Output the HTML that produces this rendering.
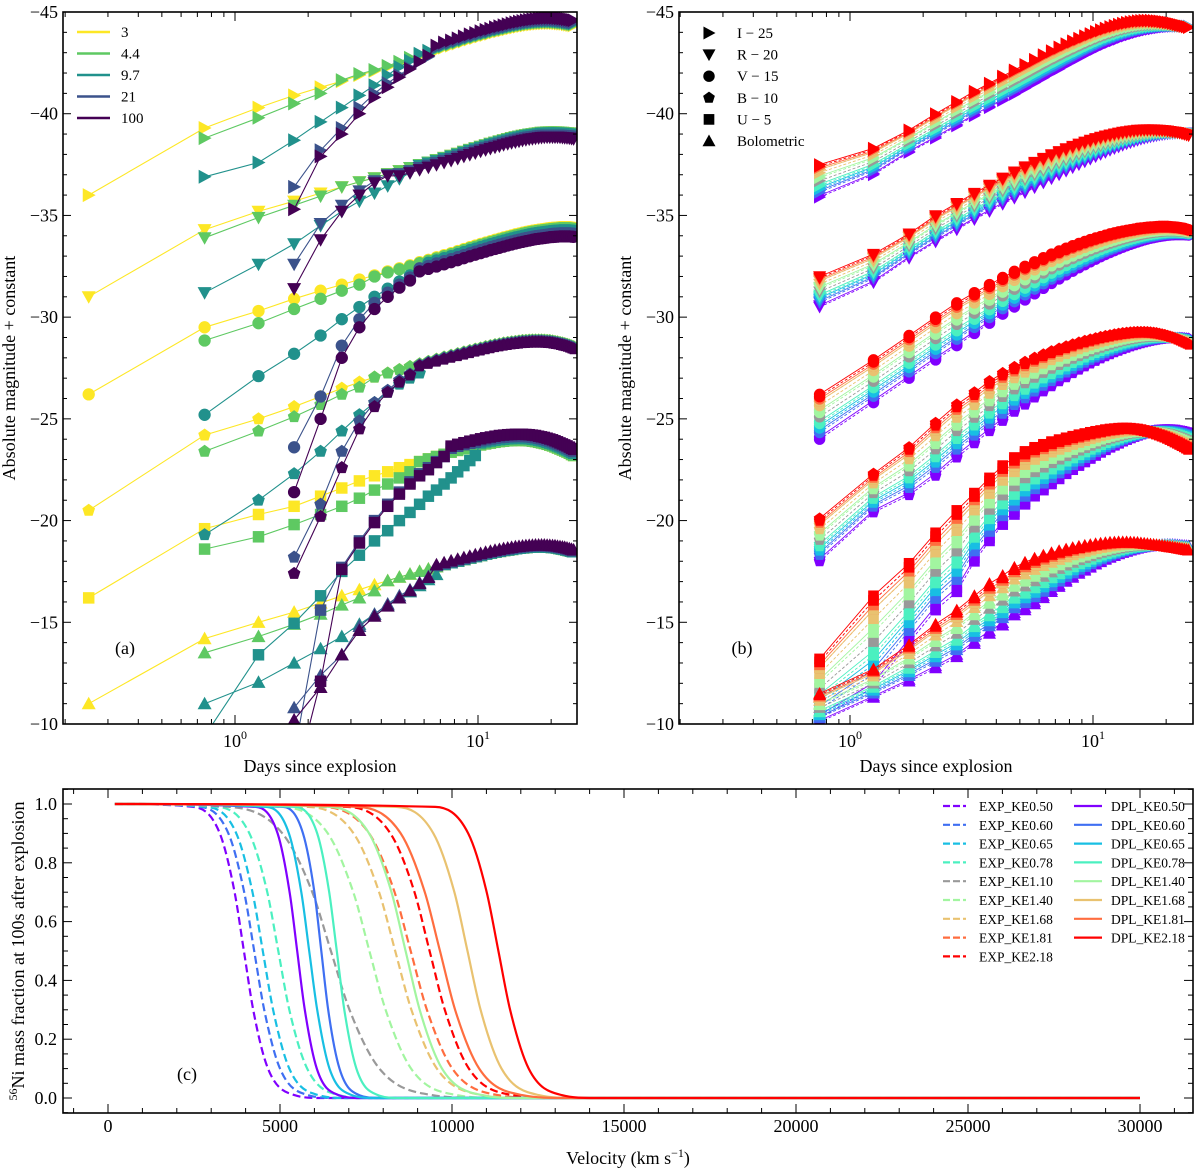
<!DOCTYPE html>
<html><head><meta charset="utf-8"><style>
html,body{margin:0;padding:0;background:#fff;}
svg{display:block;font-family:"Liberation Serif",serif;}
</style></head><body>
<svg id="fig" width="1200" height="1174" viewBox="0 0 1200 1174" xmlns="http://www.w3.org/2000/svg">
<defs>
<clipPath id="clipA"><rect x="63" y="12" width="514" height="712"/></clipPath>
<clipPath id="clipB"><rect x="679" y="12" width="514" height="712"/></clipPath>
<clipPath id="clipC"><rect x="63" y="789" width="1130" height="324"/></clipPath>
</defs>
</svg>
<script>
// ---------- Panel (a) data ----------
const daysA = [0.25,0.75,1.25,1.75,2.25,2.75,3.25,3.75,4.25,4.75,5.25,5.75,6.25,6.75,7.25,7.75,8.25,8.75,9.25,9.75,10.25,10.75,11.25,11.75,12.25,12.75,13.25,13.75,14.25,14.75,15.25,15.75,16.25,16.75,17.25,17.75,18.25,18.75,19.25,19.75,20.25,20.75,21.25,21.75,22.25,22.75,23.25,23.75,24.25,24.75];
const bandNames = ['I','R','V','B','U','Bol'];
const tplI = [-36.0,-39.3,-40.3,-40.9,-41.3,-41.6,-41.9,-42.1,-42.3,-42.5,-42.7,-42.85,-43.0,-43.1,-43.25,-43.35,-43.45,-43.55,-43.65,-43.72,-43.8,-43.87,-43.93,-44.0,-44.05,-44.1,-44.15,-44.2,-44.24,-44.28,-44.31,-44.34,-44.37,-44.39,-44.41,-44.43,-44.44,-44.45,-44.46,-44.46,-44.46,-44.46,-44.45,-44.44,-44.43,-44.42,-44.4,-44.38,-44.36,-44.34];
const tplR = [-31.0,-34.3,-35.2,-35.7,-36.1,-36.4,-36.65,-36.85,-37.05,-37.2,-37.35,-37.5,-37.62,-37.74,-37.85,-37.95,-38.05,-38.15,-38.24,-38.32,-38.4,-38.47,-38.54,-38.6,-38.66,-38.72,-38.77,-38.82,-38.86,-38.9,-38.94,-38.97,-39.0,-39.02,-39.04,-39.06,-39.08,-39.09,-39.1,-39.1,-39.1,-39.1,-39.1,-39.09,-39.08,-39.07,-39.06,-39.05,-39.03,-39.01];
const tplV = [-26.2,-29.5,-30.3,-30.9,-31.3,-31.6,-31.85,-32.05,-32.25,-32.4,-32.55,-32.7,-32.82,-32.94,-33.05,-33.15,-33.25,-33.35,-33.44,-33.52,-33.6,-33.67,-33.74,-33.8,-33.86,-33.92,-33.97,-34.02,-34.07,-34.11,-34.15,-34.19,-34.22,-34.25,-34.28,-34.3,-34.32,-34.34,-34.36,-34.38,-34.39,-34.4,-34.41,-34.42,-34.42,-34.42,-34.42,-34.42,-34.41,-34.4];
const tplB = [-20.5,-24.2,-25.0,-25.6,-26.1,-26.5,-26.8,-27.05,-27.25,-27.42,-27.57,-27.7,-27.82,-27.93,-28.03,-28.12,-28.2,-28.28,-28.35,-28.42,-28.48,-28.54,-28.59,-28.64,-28.68,-28.72,-28.75,-28.78,-28.8,-28.82,-28.84,-28.85,-28.86,-28.87,-28.87,-28.87,-28.87,-28.86,-28.85,-28.84,-28.82,-28.8,-28.78,-28.75,-28.72,-28.69,-28.66,-28.62,-28.58,-28.54];
const tplU = [-16.2,-19.6,-20.3,-20.7,-21.2,-21.6,-21.95,-22.2,-22.4,-22.6,-22.75,-22.9,-23.03,-23.15,-23.26,-23.36,-23.45,-23.53,-23.6,-23.66,-23.72,-23.77,-23.81,-23.85,-23.88,-23.9,-23.92,-23.93,-23.94,-23.94,-23.94,-23.93,-23.92,-23.9,-23.88,-23.85,-23.82,-23.79,-23.75,-23.71,-23.67,-23.62,-23.57,-23.52,-23.47,-23.42,-23.37,-23.31,-23.25,-23.2];
const tplBol = [-11.0,-14.2,-15.0,-15.5,-15.95,-16.3,-16.6,-16.85,-17.05,-17.22,-17.37,-17.5,-17.62,-17.73,-17.83,-17.92,-18.0,-18.08,-18.15,-18.22,-18.28,-18.34,-18.39,-18.44,-18.48,-18.52,-18.55,-18.58,-18.61,-18.63,-18.65,-18.67,-18.68,-18.69,-18.7,-18.7,-18.7,-18.7,-18.69,-18.68,-18.67,-18.66,-18.64,-18.62,-18.6,-18.58,-18.55,-18.52,-18.49,-18.46];
const modelsA = ['3','4.4','9.7','21','100'];
const colorsA = ['#fde725','#5ec962','#21918c','#3b528b','#440154'];
const startA = [0,1,1,3,3];
const early3 = [[],[],[],[],[],[]];
const early44 = [[-38.8,-39.8,-40.5,-41.0],[-33.9,-34.9,-35.5,-35.95],[-28.85,-29.7,-30.4,-30.9,-31.3,-31.6],[-23.4,-24.4,-25.1,-25.7,-26.2,-26.55],[-18.6,-19.2,-19.8,-20.3,-20.7,-21.1,-21.5,-21.8,-22.1,-22.4],[-13.5,-14.3,-14.9,-15.4,-15.85,-16.2,-16.55]];
const early97 = [[-36.9,-37.6,-38.7,-39.6,-40.3,-40.9,-41.4,-41.9,-42.3,-42.6],[-31.2,-32.6,-33.6,-34.5,-35.2,-35.7,-36.1,-36.45,-36.8,-37.1],[-25.2,-27.1,-28.2,-29.1,-29.9,-30.5,-31.0,-31.4,-31.75,-32.05,-32.3],[-19.3,-21.0,-22.3,-23.4,-24.4,-25.2,-25.8,-26.3,-26.7,-27.0,-27.25],[-9.4,-13.4,-14.95,-16.3,-17.5,-18.3,-19.0,-19.5,-20.0,-20.4,-20.8,-21.2,-21.5,-21.8,-22.1,-22.4,-22.7,-22.95,-23.2],[-11.0,-12.05,-13.0,-13.7,-14.3,-14.9,-15.4,-15.85,-16.2,-16.5,-16.8,-17.1,-17.35]];
const early21 = [[-36.4,-38.2,-39.3,-40.3,-41.0,-41.5,-41.9,-42.25,-42.55,-42.8],[-32.6,-34.6,-35.5,-36.2,-36.7,-37.0],[-23.6,-26.1,-28.6,-29.9,-30.7,-31.2,-31.6,-31.95],[-18.2,-20.8,-23.4,-24.9,-25.8,-26.4,-26.9,-27.2],[-8.5,-15.6,-17.7,-19.0,-20.0,-20.8,-21.4,-21.9,-22.3,-22.6,-22.9,-23.15],[-10.8,-12.4,-13.4,-14.8,-15.4,-15.9,-16.3,-16.6,-16.95,-17.25]];
const early100 = [[-35.3,-37.9,-39.0,-40.0,-40.8,-41.3,-41.8,-42.2,-42.55,-42.85],[-31.4,-33.8,-35.2,-36.0,-36.6,-36.95],[-21.4,-25.0,-28.0,-29.5,-30.4,-31.0,-31.45,-31.8],[-17.4,-20.2,-22.6,-24.5,-25.6,-26.3,-26.8,-27.15],[-7.0,-12.1,-17.6,-18.9,-19.9,-20.7,-21.3,-21.8,-22.2,-22.5,-22.85,-23.15],[-10.2,-11.8,-13.4,-14.6,-15.3,-15.8,-16.2,-16.55,-16.9,-17.2]];
const lateOff3 = [0,0,0,0,0,0];
const lateOff44 = [-0.05,0,0.05,0,0,0];
const lateOff97 = [-0.1,0.05,0.15,0.05,-0.1,0];
const lateOff21 = [-0.15,0.15,0.3,0.05,-0.2,-0.05];
const lateOff100 = [-0.25,0.25,0.45,0.1,-0.3,-0.1];

// ---------- Panel (b) data ----------
const daysB = [0.75,1.25,1.75,2.25,2.75,3.25,3.75,4.25,4.75,5.25,5.75,6.25,6.75,7.25,7.75,8.25,8.75,9.25,9.75,10.25,10.75,11.25,11.75,12.25,12.75,13.25,13.75,14.25,14.75,15.25,15.75,16.25,16.75,17.25,17.75,18.25,18.75,19.25,19.75,20.25,20.75,21.25,21.75,22.25,22.75,23.25,23.75,24.25,24.75];
const redI = [-37.5,-38.3,-39.2,-40.0,-40.6,-41.1,-41.5,-41.85,-42.15,-42.42,-42.67,-42.9,-43.1,-43.28,-43.44,-43.58,-43.71,-43.83,-43.94,-44.04,-44.13,-44.21,-44.28,-44.34,-44.4,-44.45,-44.49,-44.52,-44.55,-44.57,-44.58,-44.59,-44.59,-44.59,-44.58,-44.57,-44.56,-44.54,-44.52,-44.5,-44.48,-44.45,-44.42,-44.39,-44.36,-44.33,-44.3,-44.27,-44.24];
const purpleI = [-35.9,-37.0,-38.1,-38.8,-39.4,-39.9,-40.3,-40.65,-40.95,-41.25,-41.52,-41.77,-42.0,-42.2,-42.4,-42.58,-42.74,-42.9,-43.04,-43.17,-43.29,-43.4,-43.5,-43.59,-43.67,-43.75,-43.82,-43.88,-43.94,-43.99,-44.04,-44.08,-44.12,-44.15,-44.18,-44.21,-44.23,-44.25,-44.27,-44.28,-44.29,-44.3,-44.31,-44.31,-44.31,-44.31,-44.31,-44.3,-44.3];
const redR = [-32.0,-33.1,-34.1,-35.0,-35.6,-36.1,-36.5,-36.85,-37.15,-37.4,-37.62,-37.82,-38.0,-38.15,-38.29,-38.41,-38.52,-38.62,-38.71,-38.79,-38.86,-38.92,-38.97,-39.02,-39.06,-39.1,-39.13,-39.16,-39.18,-39.2,-39.21,-39.22,-39.22,-39.22,-39.22,-39.21,-39.2,-39.19,-39.18,-39.16,-39.14,-39.12,-39.1,-39.08,-39.05,-39.02,-38.99,-38.96,-38.93];
const purpleR = [-30.5,-31.7,-32.9,-33.7,-34.3,-34.8,-35.2,-35.55,-35.85,-36.12,-36.37,-36.6,-36.81,-37.0,-37.18,-37.35,-37.5,-37.64,-37.77,-37.89,-38.0,-38.1,-38.2,-38.29,-38.37,-38.45,-38.52,-38.58,-38.64,-38.7,-38.75,-38.79,-38.83,-38.87,-38.9,-38.93,-38.96,-38.98,-39.0,-39.02,-39.03,-39.04,-39.05,-39.06,-39.06,-39.06,-39.06,-39.06,-39.05];
const redV = [-26.2,-27.9,-29.1,-30.0,-30.7,-31.2,-31.6,-31.95,-32.25,-32.5,-32.72,-32.92,-33.1,-33.25,-33.39,-33.51,-33.62,-33.72,-33.81,-33.89,-33.96,-34.03,-34.09,-34.14,-34.19,-34.23,-34.27,-34.3,-34.33,-34.36,-34.38,-34.4,-34.42,-34.43,-34.44,-34.45,-34.46,-34.46,-34.46,-34.46,-34.45,-34.44,-34.43,-34.42,-34.4,-34.38,-34.36,-34.33,-34.3];
const purpleV = [-24.0,-25.8,-27.0,-27.9,-28.6,-29.2,-29.7,-30.15,-30.5,-30.85,-31.15,-31.42,-31.66,-31.88,-32.08,-32.26,-32.43,-32.58,-32.72,-32.85,-32.97,-33.08,-33.18,-33.27,-33.36,-33.44,-33.51,-33.58,-33.64,-33.7,-33.75,-33.8,-33.84,-33.88,-33.91,-33.94,-33.97,-33.99,-34.01,-34.03,-34.04,-34.05,-34.06,-34.06,-34.06,-34.06,-34.06,-34.05,-34.04];
const redB = [-20.1,-22.3,-23.6,-24.8,-25.7,-26.3,-26.85,-27.25,-27.55,-27.8,-28.0,-28.17,-28.32,-28.45,-28.56,-28.66,-28.75,-28.83,-28.9,-28.96,-29.02,-29.07,-29.11,-29.15,-29.18,-29.21,-29.23,-29.25,-29.26,-29.27,-29.27,-29.27,-29.26,-29.25,-29.23,-29.21,-29.18,-29.15,-29.12,-29.08,-29.04,-29.0,-28.95,-28.9,-28.85,-28.8,-28.75,-28.7,-28.65];
const purpleB = [-18.0,-20.4,-21.25,-22.2,-23.1,-23.8,-24.4,-24.9,-25.35,-25.7,-26.05,-26.35,-26.6,-26.85,-27.05,-27.25,-27.42,-27.58,-27.72,-27.85,-27.97,-28.08,-28.18,-28.27,-28.35,-28.43,-28.5,-28.56,-28.62,-28.67,-28.72,-28.76,-28.8,-28.83,-28.86,-28.89,-28.91,-28.93,-28.95,-28.96,-28.97,-28.98,-28.98,-28.98,-28.98,-28.97,-28.96,-28.95,-28.94];
const redU = [-13.2,-16.3,-17.9,-19.4,-20.5,-21.35,-22.1,-22.7,-23.1,-23.4,-23.6,-23.75,-23.88,-23.98,-24.07,-24.15,-24.22,-24.28,-24.34,-24.39,-24.43,-24.47,-24.5,-24.52,-24.54,-24.55,-24.55,-24.54,-24.52,-24.5,-24.47,-24.43,-24.39,-24.35,-24.3,-24.25,-24.2,-24.15,-24.1,-24.04,-23.98,-23.92,-23.86,-23.8,-23.74,-23.68,-23.62,-23.56,-23.5];
const purpleU = [-10.3,-11.8,-14.0,-15.6,-16.5,-18.0,-19.0,-19.8,-20.3,-20.8,-21.2,-21.5,-21.8,-22.05,-22.3,-22.5,-22.7,-22.88,-23.05,-23.2,-23.35,-23.48,-23.6,-23.7,-23.8,-23.9,-23.98,-24.06,-24.13,-24.19,-24.25,-24.3,-24.34,-24.38,-24.41,-24.43,-24.45,-24.46,-24.47,-24.47,-24.47,-24.46,-24.45,-24.43,-24.41,-24.39,-24.36,-24.33,-24.3];
const redBol = [-11.5,-12.7,-13.9,-14.9,-15.6,-16.3,-16.9,-17.3,-17.7,-17.95,-18.15,-18.3,-18.42,-18.52,-18.6,-18.67,-18.73,-18.78,-18.82,-18.86,-18.89,-18.91,-18.93,-18.94,-18.95,-18.95,-18.95,-18.94,-18.93,-18.92,-18.9,-18.88,-18.86,-18.84,-18.82,-18.8,-18.78,-18.76,-18.74,-18.72,-18.7,-18.68,-18.66,-18.64,-18.62,-18.6,-18.58,-18.56,-18.54];
const purpleBol = [-10.1,-11.3,-12.1,-12.75,-13.3,-13.95,-14.45,-14.85,-15.35,-15.6,-15.9,-16.2,-16.5,-16.75,-17.0,-17.2,-17.4,-17.55,-17.7,-17.85,-17.97,-18.08,-18.18,-18.27,-18.35,-18.42,-18.48,-18.54,-18.59,-18.63,-18.67,-18.7,-18.73,-18.75,-18.77,-18.79,-18.8,-18.81,-18.82,-18.82,-18.82,-18.82,-18.81,-18.8,-18.79,-18.78,-18.77,-18.76,-18.75];
const modelsB = ['EXP_KE0.50','DPL_KE0.50','EXP_KE0.60','DPL_KE0.60','EXP_KE0.65','DPL_KE0.65','EXP_KE0.78','DPL_KE0.78','EXP_KE1.10','EXP_KE1.40','DPL_KE1.40','EXP_KE1.68','EXP_KE1.81','DPL_KE1.68','DPL_KE1.81','EXP_KE2.18','DPL_KE2.18'];
const mixB = [0,0.05,0.15,0.2,0.25,0.3,0.35,0.4,0.5,0.6,0.65,0.75,0.85,0.85,0.9,0.95,1.0];
const colorsB = ['#8000ff','#8000ff','#3f6ff2','#3f6ff2','#18bfe3','#18bfe3','#4bf0c0','#4bf0c0','#999999','#a2f5a0','#a2f5a0','#e9c270','#ff6d3f','#e9c270','#ff6d3f','#ff0000','#ff0000'];

// ---------- Panel (c) data ----------
const fracLevels = [1,0.99,0.9,0.7,0.5,0.3,0.1,0.01,0,0];
const curveNamesC = ['EXP_KE0.50','EXP_KE0.60','EXP_KE0.65','EXP_KE0.78','EXP_KE1.10','EXP_KE1.40','EXP_KE1.68','EXP_KE1.81','EXP_KE2.18','DPL_KE0.50','DPL_KE0.60','DPL_KE0.65','DPL_KE0.78','DPL_KE1.40','DPL_KE1.68','DPL_KE1.81','DPL_KE2.18'];
const curveColorsC = ['#8000ff','#3f6ff2','#18bfe3','#4bf0c0','#999999','#a2f5a0','#e9c270','#ff6d3f','#ff0000','#8000ff','#3f6ff2','#18bfe3','#4bf0c0','#a2f5a0','#e9c270','#ff6d3f','#ff0000'];
const velEXP050 = [200,2480,3250,3680,3950,4220,4650,5420,6190,30000];
const velEXP060 = [200,2690,3500,3960,4250,4540,5000,5810,6630,30000];
const velEXP065 = [200,2890,3730,4200,4500,4800,5270,6110,6950,30000];
const velEXP078 = [200,3200,4110,4630,4950,5270,5790,6700,7610,30000];
const velEXP110 = [200,3540,5070,5940,6480,7020,7890,9420,10960,30000];
const velEXP140 = [200,5070,6390,7130,7600,8070,8810,10130,11450,30000];
const velEXP168 = [200,5820,7140,7880,8350,8820,9560,10880,12200,30000];
const velEXP181 = [200,6270,7590,8330,8800,9270,10010,11330,12650,30000];
const velEXP218 = [200,6960,8210,8910,9350,9790,10490,11740,12990,30000];
const velDPL050 = [200,4300,4930,5280,5500,5720,6070,6700,7320,30000];
const velDPL060 = [200,5100,5670,6000,6200,6400,6730,7300,7880,30000];
const velDPL065 = [200,4610,5260,5620,5850,6080,6440,7090,7740,30000];
const velDPL078 = [200,5450,6080,6430,6650,6870,7220,7850,8470,30000];
const velDPL140 = [200,6440,7590,8240,8650,9060,9710,10860,12010,30000];
const velDPL168 = [200,8380,9460,10070,10450,10830,11440,12520,13600,30000];
const velDPL181 = [200,7260,8510,9210,9650,10090,10790,12040,13290,30000];
const velDPL218 = [200,9510,10470,11010,11350,11690,12230,13190,14150,30000];

// ---------- helpers ----------
const NS='http://www.w3.org/2000/svg';
const svg=document.getElementById('fig');
function el(tag,parent,attrs){const e=document.createElementNS(NS,tag);for(const k in attrs)e.setAttribute(k,attrs[k]);parent.appendChild(e);return e;}
const xA=t=>235+243*Math.log10(t);
const xB=t=>850+243*Math.log10(t);
const yM=m=>12+(m+45)*20.343;
const xC=v=>108+v*0.0344;
const yC=f=>1098-f*294;

function markerPath(shape,r){
  if(shape==='I')return `M${r},0L${-0.85*r},${-r}L${-0.85*r},${r}Z`;
  if(shape==='R')return `M0,${r}L${r},${-0.8*r}L${-r},${-0.8*r}Z`;
  if(shape==='Bol')return `M0,${-r}L${r},${0.8*r}L${-r},${0.8*r}Z`;
  if(shape==='U'){const s=0.82*r;return `M${-s},${-s}H${s}V${s}H${-s}Z`;}
  if(shape==='V'){const s=0.88*r;return `M${-s},0A${s},${s} 0 1,0 ${s},0A${s},${s} 0 1,0 ${-s},0Z`;}
  let d='';for(let k=0;k<5;k++){const a=-Math.PI/2+k*2*Math.PI/5;d+=(k?'L':'M')+(0.95*r*Math.cos(a)).toFixed(2)+','+(0.95*r*Math.sin(a)).toFixed(2);}return d+'Z';
}

function axesFrame(g,x0,y0,w,h){return el('rect',g,{x:x0,y:y0,width:w,height:h,fill:'none',stroke:'#000','stroke-width':1.6});}
function txt(g,x,y,s,size,anchor){const t=el('text',g,{x:x,y:y,'font-size':size,'text-anchor':anchor||'middle',fill:'#000'});t.textContent=s;return t;}

function magAxes(g,x0,xf,labelX){
  const x1=x0+514,y0=12,y1=724;
  for(let m=-45;m<=-10;m++){
    const y=yM(m);const major=m%5===0;const L=major?8:4;
    el('line',g,{x1:x0,y1:y,x2:x0+L,y2:y,stroke:'#000','stroke-width':1});
    el('line',g,{x1:x1,y1:y,x2:x1-L,y2:y,stroke:'#000','stroke-width':1});
    if(major){const t=txt(g,x0-5,y+6,'\u2212'+(-m),18,'end');
      
      }
  }
  const ticks=[0.2,0.3,0.4,0.5,0.6,0.7,0.8,0.9,1,2,3,4,5,6,7,8,9,10,20];
  ticks.forEach(t=>{const x=xf(t);if(x<x0||x>x1)return;const major=(t===1||t===10);const L=major?9:5;
    el('line',g,{x1:x,y1:y1,x2:x,y2:y1-L,stroke:'#000','stroke-width':1});
    el('line',g,{x1:x,y1:y0,x2:x,y2:y0+L,stroke:'#000','stroke-width':1});
    if(major){const te=el('text',g,{x:x,y:747,'font-size':18,'text-anchor':'middle'});
      
      
      te.appendChild(document.createTextNode('10'));
      const sp=el('tspan',te,{'font-size':12,dy:-8});sp.textContent=(t===1?'0':'1');}
  });
  axesFrame(g,x0,y0,514,712);
  const xl=txt(g,x0+257,772,'Days since explosion',18);
  
  
  const yl=txt(g,0,0,'Absolute magnitude + constant',18);
  yl.setAttribute('transform',`translate(${labelX},368) rotate(-90)`);
  
  
}

// ---------- Panel (a) ----------
const gA=el('g',svg,{});


const gAd=el('g',gA,{'clip-path':'url(#clipA)'});


const tplsA=[tplI,tplR,tplV,tplB,tplU,tplBol];
const earlyA=[early3,early44,early97,early21,early100];
const lateA=[lateOff3,lateOff44,lateOff97,lateOff21,lateOff100];
modelsA.forEach((mname,mi)=>{
  bandNames.forEach((b,bi)=>{
    const pts=[];
    for(let i=startA[mi];i<daysA.length;i++){
      const k=i-startA[mi];const e=earlyA[mi][bi];
      const v=k<e.length?e[k]:tplsA[bi][i]+lateA[mi][bi];
      pts.push([xA(daysA[i]),yM(v)]);
    }
    const g=el('g',gAd,{});
    
    
    el('polyline',g,{points:pts.map(p=>p[0].toFixed(1)+','+p[1].toFixed(1)).join(' '),fill:'none',stroke:colorsA[mi],'stroke-width':1.1});
    const d=markerPath(b,7);
    pts.forEach(p=>{const mk=el('path',g,{d:d,transform:`translate(${p[0].toFixed(1)},${p[1].toFixed(1)})`,fill:colorsA[mi]});
      
      });
  });
});
magAxes(gA,63,xA,15);
const lgA=el('g',gA,{});


modelsA.forEach((mname,mi)=>{
  const y=32+mi*21.5;
  const ln=el('line',lgA,{x1:77,y1:y,x2:110,y2:y,stroke:colorsA[mi],'stroke-width':2.5});
  
  
  const t=txt(lgA,121,y+5,mname,15,'start');
  
  
});
const la=txt(gA,125,654,'(a)',18);



// ---------- Panel (b) ----------
const gB=el('g',svg,{});


const gBd=el('g',gB,{'clip-path':'url(#clipB)'});


const redsB=[redI,redR,redV,redB,redU,redBol];
const purplesB=[purpleI,purpleR,purpleV,purpleB,purpleU,purpleBol];
modelsB.forEach((mname,mi)=>{
  const dashed=mname.startsWith('EXP');
  bandNames.forEach((b,bi)=>{
    const red=redsB[bi],pur=purplesB[bi];const n=Math.min(red.length,pur.length,daysB.length);
    const pts=[];
    for(let i=0;i<n;i++){const v=pur[i]+mixB[mi]*(red[i]-pur[i]);pts.push([xB(daysB[i]),yM(v)]);}
    const g=el('g',gBd,{});
    
    
    const pl=el('polyline',g,{points:pts.map(p=>p[0].toFixed(1)+','+p[1].toFixed(1)).join(' '),fill:'none',stroke:colorsB[mi],'stroke-width':0.9});
    if(dashed)pl.setAttribute('stroke-dasharray','3,2');
    const d=markerPath(b,6.5);
    pts.forEach(p=>{const mk=el('path',g,{d:d,transform:`translate(${p[0].toFixed(1)},${p[1].toFixed(1)})`,fill:colorsB[mi]});
      
      });
  });
});
magAxes(gB,679,xB,631);
const lgB=el('g',gB,{});


const lgBLabels=['I \u2212 25','R \u2212 20','V \u2212 15','B \u2212 10','U \u2212 5','Bolometric'];
bandNames.forEach((b,bi)=>{
  const y=33+bi*21.6;
  const mk=el('path',lgB,{d:markerPath(b,6.5),transform:`translate(709,${y})`,fill:'#000'});
  
  
  const t=txt(lgB,737,y+5,lgBLabels[bi],15,'start');
  
  
});
const lb=txt(gB,742,654,'(b)',18);



// ---------- Panel (c) ----------
const gC=el('g',svg,{});


const gCd=el('g',gC,{'clip-path':'url(#clipC)'});


function monoPath(xs,ys){
  const n=xs.length;const d=[],m=new Array(n);
  for(let i=0;i<n-1;i++)d.push((ys[i+1]-ys[i])/(xs[i+1]-xs[i]));
  m[0]=d[0];m[n-1]=d[n-2];
  for(let i=1;i<n-1;i++)m[i]=(d[i-1]*d[i]<=0)?0:(d[i-1]+d[i])/2;
  for(let i=0;i<n-1;i++){if(d[i]===0){m[i]=0;m[i+1]=0;continue;}
    const a=m[i]/d[i],b=m[i+1]/d[i],s=a*a+b*b;if(s>9){const t=3/Math.sqrt(s);m[i]=t*a*d[i];m[i+1]=t*b*d[i];}}
  let p=`M${xs[0].toFixed(1)},${ys[0].toFixed(1)}`;
  for(let i=0;i<n-1;i++){const h=xs[i+1]-xs[i];
    p+=`C${(xs[i]+h/3).toFixed(1)},${(ys[i]+m[i]*h/3).toFixed(1)} ${(xs[i+1]-h/3).toFixed(1)},${(ys[i+1]-m[i+1]*h/3).toFixed(1)} ${xs[i+1].toFixed(1)},${ys[i+1].toFixed(1)}`;}
  return p;
}
const velsC=[velEXP050,velEXP060,velEXP065,velEXP078,velEXP110,velEXP140,velEXP168,velEXP181,velEXP218,velDPL050,velDPL060,velDPL065,velDPL078,velDPL140,velDPL168,velDPL181,velDPL218];
curveNamesC.forEach((nm,ci)=>{
  const vs=velsC[ci];const n=Math.min(vs.length,fracLevels.length);
  const xs=[],ys=[];for(let i=0;i<n;i++){xs.push(xC(vs[i]));ys.push(yC(fracLevels[i]));}
  const p=el('path',gCd,{d:monoPath(xs,ys),fill:'none',stroke:curveColorsC[ci],'stroke-width':2.2});
  if(nm.startsWith('EXP'))p.setAttribute('stroke-dasharray','8,4');
  
  
});
(function(){
  const x0=63,x1=1193,y0=789,y1=1113;
  for(let v=-1000;v<=31000;v+=1000){const x=xC(v);const major=v%5000===0;const L=major?9:5;
    el('line',gC,{x1:x,y1:y1,x2:x,y2:y1-L,stroke:'#000','stroke-width':1});
    el('line',gC,{x1:x,y1:y0,x2:x,y2:y0+L,stroke:'#000','stroke-width':1});
    if(major&&v>=0){const t=txt(gC,x,1132,String(v),18);
      
      }}
  for(let k=-1;k<=21;k++){const f=k*0.05;const y=yC(f);if(y<y0||y>y1)continue;const major=k%4===0;const L=major?9:5;
    el('line',gC,{x1:x0,y1:y,x2:x0+L,y2:y,stroke:'#000','stroke-width':1});
    el('line',gC,{x1:x1,y1:y,x2:x1-L,y2:y,stroke:'#000','stroke-width':1});
    if(major&&k>=0){const t=txt(gC,57,y+6,f.toFixed(1),18,'end');
      
      }}
  axesFrame(gC,x0,y0,x1-x0,y1-y0);
  const xl=el('text',gC,{x:628,y:1164,'font-size':18,'text-anchor':'middle'});
  
  
  xl.appendChild(document.createTextNode('Velocity (km s'));
  const sp=el('tspan',xl,{'font-size':12,dy:-7});sp.textContent='\u22121';
  const sp2=el('tspan',xl,{dy:7});sp2.textContent=')';
  const yl=el('text',gC,{'font-size':18,'text-anchor':'middle',transform:'translate(24,951) rotate(-90)'});
  
  
  const s1=el('tspan',yl,{'font-size':12,dy:-7});s1.textContent='56';
  const s2=el('tspan',yl,{dy:7});s2.textContent='Ni mass fraction at 100s after explosion';
  const lc=txt(gC,187,1080,'(c)',18);
  
  
})();
const lgC=el('g',gC,{});


curveNamesC.forEach((nm,ci)=>{
  const exp=nm.startsWith('EXP');const row=exp?ci:ci-9;const y=806+row*18.8;
  const lx=exp?943:1074,lx2=exp?966:1102,tx=exp?979:1111;
  const ln=el('line',lgC,{x1:lx,y1:y,x2:lx2,y2:y,stroke:curveColorsC[ci],'stroke-width':2.2});
  if(exp)ln.setAttribute('stroke-dasharray','7,3');
  
  
  const t=txt(lgC,tx,y+5,nm,13.5,'start');
  
  
});
</script>
</body></html>
